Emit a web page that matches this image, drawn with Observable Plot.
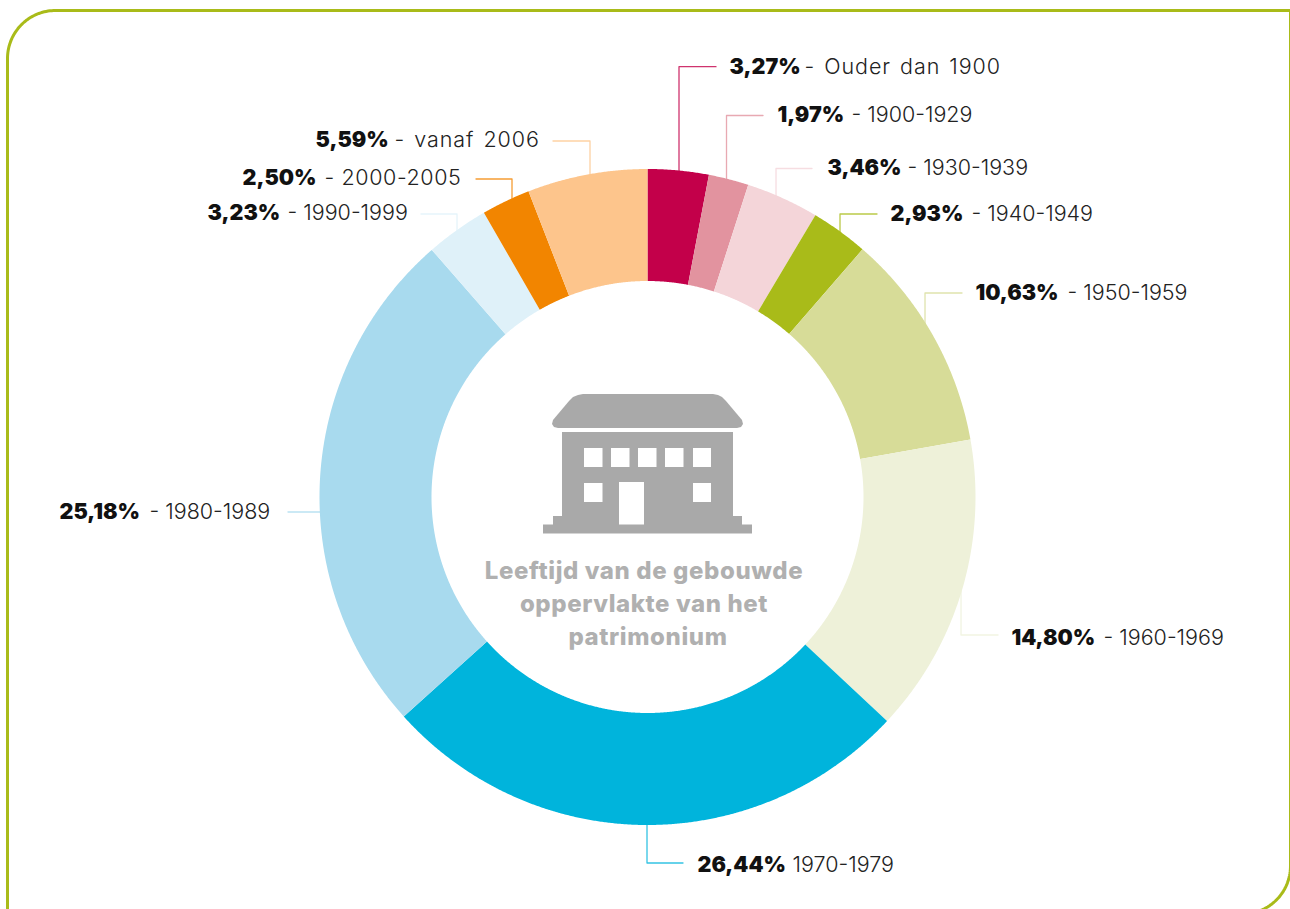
<!DOCTYPE html>
<html>
<head>
<meta charset="utf-8">
<script src="https://cdn.jsdelivr.net/npm/d3@7"></script>
<script src="https://cdn.jsdelivr.net/npm/@observablehq/plot@0.6"></script>
<style>
html,body{margin:0;padding:0;background:#fff;overflow:hidden}
svg{display:block}
.wide text{letter-spacing:.95px;word-spacing:2px}
.wider text{letter-spacing:.6px}
.title text{letter-spacing:.6px}
</style>
</head>
<body>
<div id="chart"></div>
<script>
// Data: printed shares, and the sweep of each slice as read from the ring itself
const shareLabels = ["3,27%","1,97%","3,46%","2,93%","10,63%","14,80%","26,44%","25,18%","3,23%","2,50%","5,59%"];
const sweeps = [3.00, 1.97, 3.58, 2.83, 10.81, 14.78, 26.36, 25.25, 3.11, 2.40, 5.91];
const periods = ["- Ouder dan 1900","- 1900-1929","- 1930-1939","- 1940-1949","- 1950-1959","- 1960-1969","1970-1979","- 1980-1989","- 1990-1999","- 2000-2005","- vanaf 2006"];
const colors = ["#c3004a","#e2939f","#f4d5d9","#a9bb19","#d7dc98","#eef1d9","#00b4dc","#a8daee","#dff1f9","#f28500","#fdc58c"];
const centreTitle = ["Leeftijd van de gebouwde","oppervlakte van het","patrimonium"];

// Layout (chart units = one px)
const W = 1290, H = 909, cx = 647, cy = 496.5, rOuter = 328, rInner = 216;
const titleX = [643.5,643.5,647.5];
const labelY = [67,115,168,214,293,638,865,512,213,178,140];
const boldX  = [729,777,827,890,975,1011,697,59,207,242,315];
const restX  = [804,851,907,971,1067,1103,792,149,287,324,394];
const leaders = [
  [[716,66.7],[679,66.7],[679,175]],
  [[763,115.5],[726.5,115.5],[726.5,182]],
  [[812,168.5],[776,168.5],[776,198]],
  [[877,214],[840,214],[840,236]],
  [[962,293],[925,293],[925,325]],
  [[998,635],[961,635],[961,590]],
  [[683,863],[647,863],[647,820]],
  [[288,512],[325,512]],
  [[421,214],[457,214],[457,235]],
  [[476,179],[512,179],[512,202]],
  [[553,141],[590,141],[590,175]]
];
const rects = [
  [562,733,432,516,"#a9a9a9"],[553,742,516,525,"#a9a9a9"],[543,752,524.5,533.5,"#a9a9a9"],
  [584,602.5,448,467,"#fff"],[611,629.5,448,467,"#fff"],[638,656.5,448,467,"#fff"],[665,683.5,448,467,"#fff"],[693,711,448,467,"#fff"],
  [584,602.5,483,502,"#fff"],[693,711,483,502,"#fff"],[619,644,482,524.5,"#fff"]
];
const roof = [[583,394],[713,394],[718,395],[722,397],[726,401],[742,420],[743,424],[741,427],[737,428],[558,428],[554,427],[552,424],[553,420],[569,401],[573,397],[578,395]];

// Ring polygons built from the sweeps
const ringPts = [];
let acc = 0;
sweeps.forEach((s,i) => {
  const a0 = acc/100*2*Math.PI, a1 = (acc+s)/100*2*Math.PI;
  acc += s;
  const n = Math.max(2, Math.ceil((a1-a0)/0.004));
  const push = (r,a) => ringPts.push({k:i, x:cx+r*Math.sin(a), y:cy-r*Math.cos(a), c:colors[i]});
  for (let j=0;j<=n;j++) push(rOuter, a0+(a1-a0)*j/n);
  for (let j=n;j>=0;j--) push(rInner, a0+(a1-a0)*j/n);
});

const leaderPts = leaders.flatMap((l,i)=>l.map(p=>({k:i,x:p[0],y:p[1],c:colors[i]})));
const labels = shareLabels.map((s,i)=>({b:s,r:periods[i],bx:boldX[i],rx:restX[i],y:labelY[i]}));
const isWide = d => /[a-z]/.test(d.r);
const isWider = d => d.r.includes("2000");
const isPlain = d => !isWide(d) && !isWider(d);

// Frame
const arcPts = (ax,ay,r,a0,a1)=>d3.range(0,41).map(j=>{const a=(a0+(a1-a0)*j/40)*Math.PI/180;return {x:ax+r*Math.cos(a),y:ay+r*Math.sin(a)};});
const framePts = [{x:7,y:H+5},...arcPts(55,58,48,180,270),{x:1290,y:10},...arcPts(1242,865.5,48,0,90)];

const fontFam = "Inter, 'Noto Sans', sans-serif";
const restOpts = {x:"rx",y:"y",text:"r",textAnchor:"start",fontSize:21.5,fontWeight:300,fill:"#222",fontFamily:fontFam};
const plot = Plot.plot({
  width:W, height:H, margin:0,
  x:{domain:[0,W],range:[0,W],axis:null},
  y:{domain:[0,H],range:[0,H],axis:null},
  color:{type:"identity"},
  style:{background:"#fff",fontFamily:fontFam},
  marks:[
    Plot.line(framePts,{x:"x",y:"y",stroke:"#a9bb19",strokeWidth:3}),
    Plot.line(leaderPts,{x:"x",y:"y",z:"k",stroke:"c",strokeWidth:1.3,strokeOpacity:0.8,dx:-0.5,dy:-0.5}),
    Plot.line(ringPts,{x:"x",y:"y",z:"k",fill:"c",stroke:"none"}),
    Plot.line(roof,{x:d=>d[0],y:d=>d[1],fill:"#a9a9a9",stroke:"none",dx:-0.5,dy:-0.5}),
    Plot.rect(rects,{x1:d=>d[0],x2:d=>d[1],y1:d=>d[2],y2:d=>d[3],fill:d=>d[4]}),
    Plot.text(centreTitle,{x:(d,i)=>titleX[i],y:(d,i)=>571+i*33,text:d=>d,fontSize:24,fontWeight:800,fill:"#b0b0b0",fontFamily:fontFam,className:"title"}),
    Plot.text(labels,{x:"bx",y:"y",text:"b",textAnchor:"start",fontSize:21.5,fontWeight:900,fill:"#111",fontFamily:fontFam}),
    Plot.text(labels.filter(isPlain),restOpts),
    Plot.text(labels.filter(isWide),{...restOpts,className:"wide"}),
    Plot.text(labels.filter(isWider),{...restOpts,className:"wider"})
  ]
});
document.getElementById("chart").append(plot);
</script>
</body>
</html>
